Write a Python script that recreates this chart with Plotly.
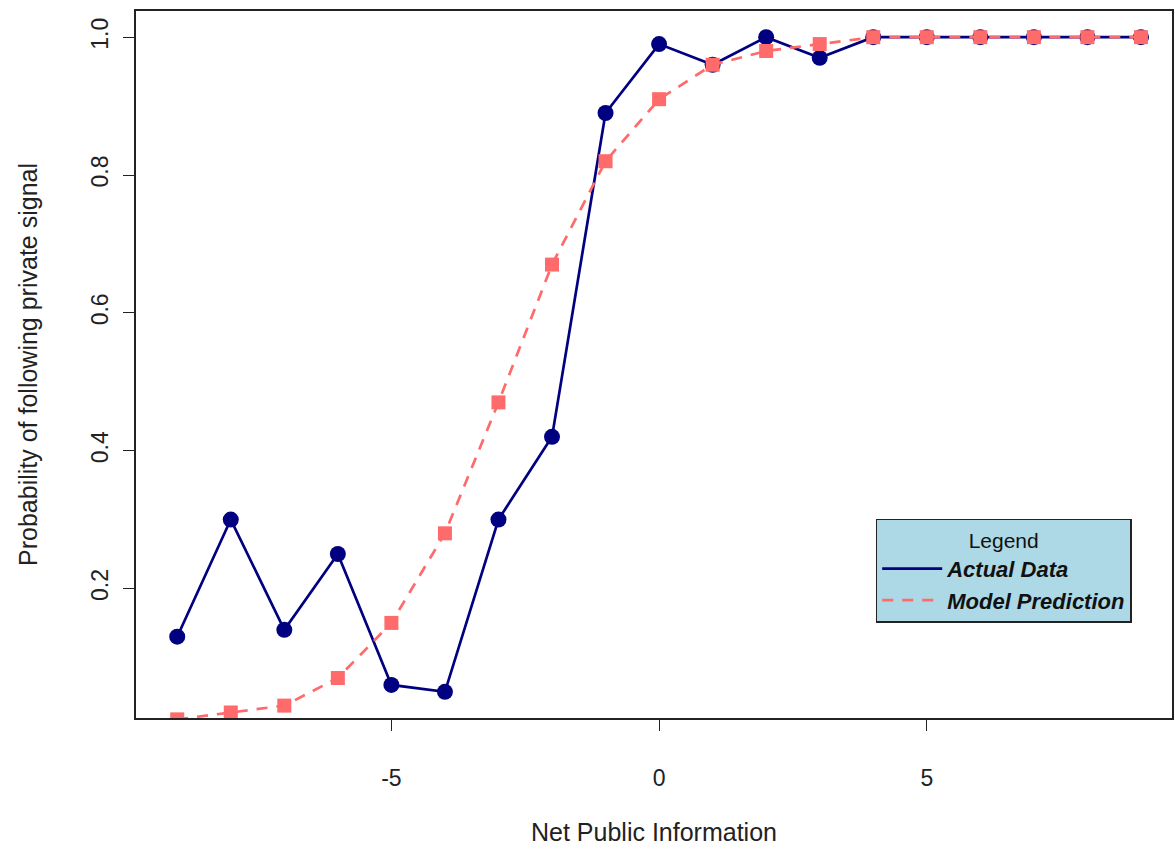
import plotly.graph_objects as go

x_vals = [-9, -8, -7, -6, -5, -4, -3, -2, -1, 0, 1, 2, 3, 4, 5, 6, 7, 8, 9]
actual = [0.13, 0.30, 0.14, 0.25, 0.06, 0.05, 0.30, 0.42, 0.89, 0.99, 0.96, 1.0, 0.97,
          1.0, 1.0, 1.0, 1.0, 1.0, 1.0]
model = [0.01, 0.02, 0.03, 0.07, 0.15, 0.28, 0.47, 0.67, 0.82, 0.91, 0.96, 0.98, 0.99,
         1.0, 1.0, 1.0, 1.0, 1.0, 1.0]
x_ticks = [-5, 0, 5]
y_ticks = [0.2, 0.4, 0.6, 0.8, 1.0]

navy = "#000080"
salmon = "#FF6A6A"
font_fam = "Liberation Sans, Arial, sans-serif"

fig = go.Figure()
fig.add_trace(go.Scatter(x=x_vals, y=actual, mode="lines", line=dict(color=navy, width=2.7),
                         name="<b><i>Actual Data</i></b>", showlegend=True))
fig.add_trace(go.Scatter(x=x_vals, y=actual, mode="markers",
                         marker=dict(color=navy, size=16, symbol="circle"), showlegend=False))
fig.add_trace(go.Scatter(x=x_vals, y=model, mode="lines",
                         line=dict(color=salmon, width=2.7, dash="11px,9px"),
                         name="<b><i>Model Prediction</i></b>", showlegend=True))
fig.add_trace(go.Scatter(x=x_vals, y=model, mode="markers",
                         marker=dict(color=salmon, size=14, symbol="square"), showlegend=False))

fig.update_layout(
    width=1175, height=851,
    margin=dict(l=136, r=3, t=11, b=133),
    paper_bgcolor="white", plot_bgcolor="white",
    font=dict(family=font_fam, size=22, color="#222222"),
    xaxis=dict(range=[-9.77, 9.58], tickvals=x_ticks, ticktext=[str(v) for v in x_ticks],
               showgrid=False, zeroline=False, showline=True, mirror=True, automargin=False,
               linecolor="#222222", linewidth=1.5, ticks="outside", ticklen=11,
               tickcolor="#222222", tickfont=dict(size=23), ticklabelstandoff=28,
               title=dict(text="Net Public Information", font=dict(size=25), standoff=33)),
    yaxis=dict(range=[0.012, 1.038], tickvals=y_ticks, ticktext=["0.2", "0.4", "0.6", "0.8", "1.0"],
               tickangle=-90, showgrid=False, zeroline=False, showline=True, mirror=True,
               automargin=False,
               linecolor="#222222", linewidth=1.5, ticks="outside", ticklen=11,
               tickcolor="#222222", tickfont=dict(size=23), ticklabelstandoff=6,
               title=dict(text="Probability of following private signal", font=dict(size=25),
                          standoff=42)),
    legend=dict(x=0.714, y=0.2815, xanchor="left", yanchor="top",
                bgcolor="#ADD8E6", bordercolor="#222222", borderwidth=1.5,
                title=dict(text="Legend", side="top center", font=dict(size=21)),
                font=dict(size=22, color="#111111"),
                itemwidth=60, tracegroupgap=0),
)

fig.write_html("out.html", config={"displayModeBar": False},
               post_script="document.body.style.margin='0';")
